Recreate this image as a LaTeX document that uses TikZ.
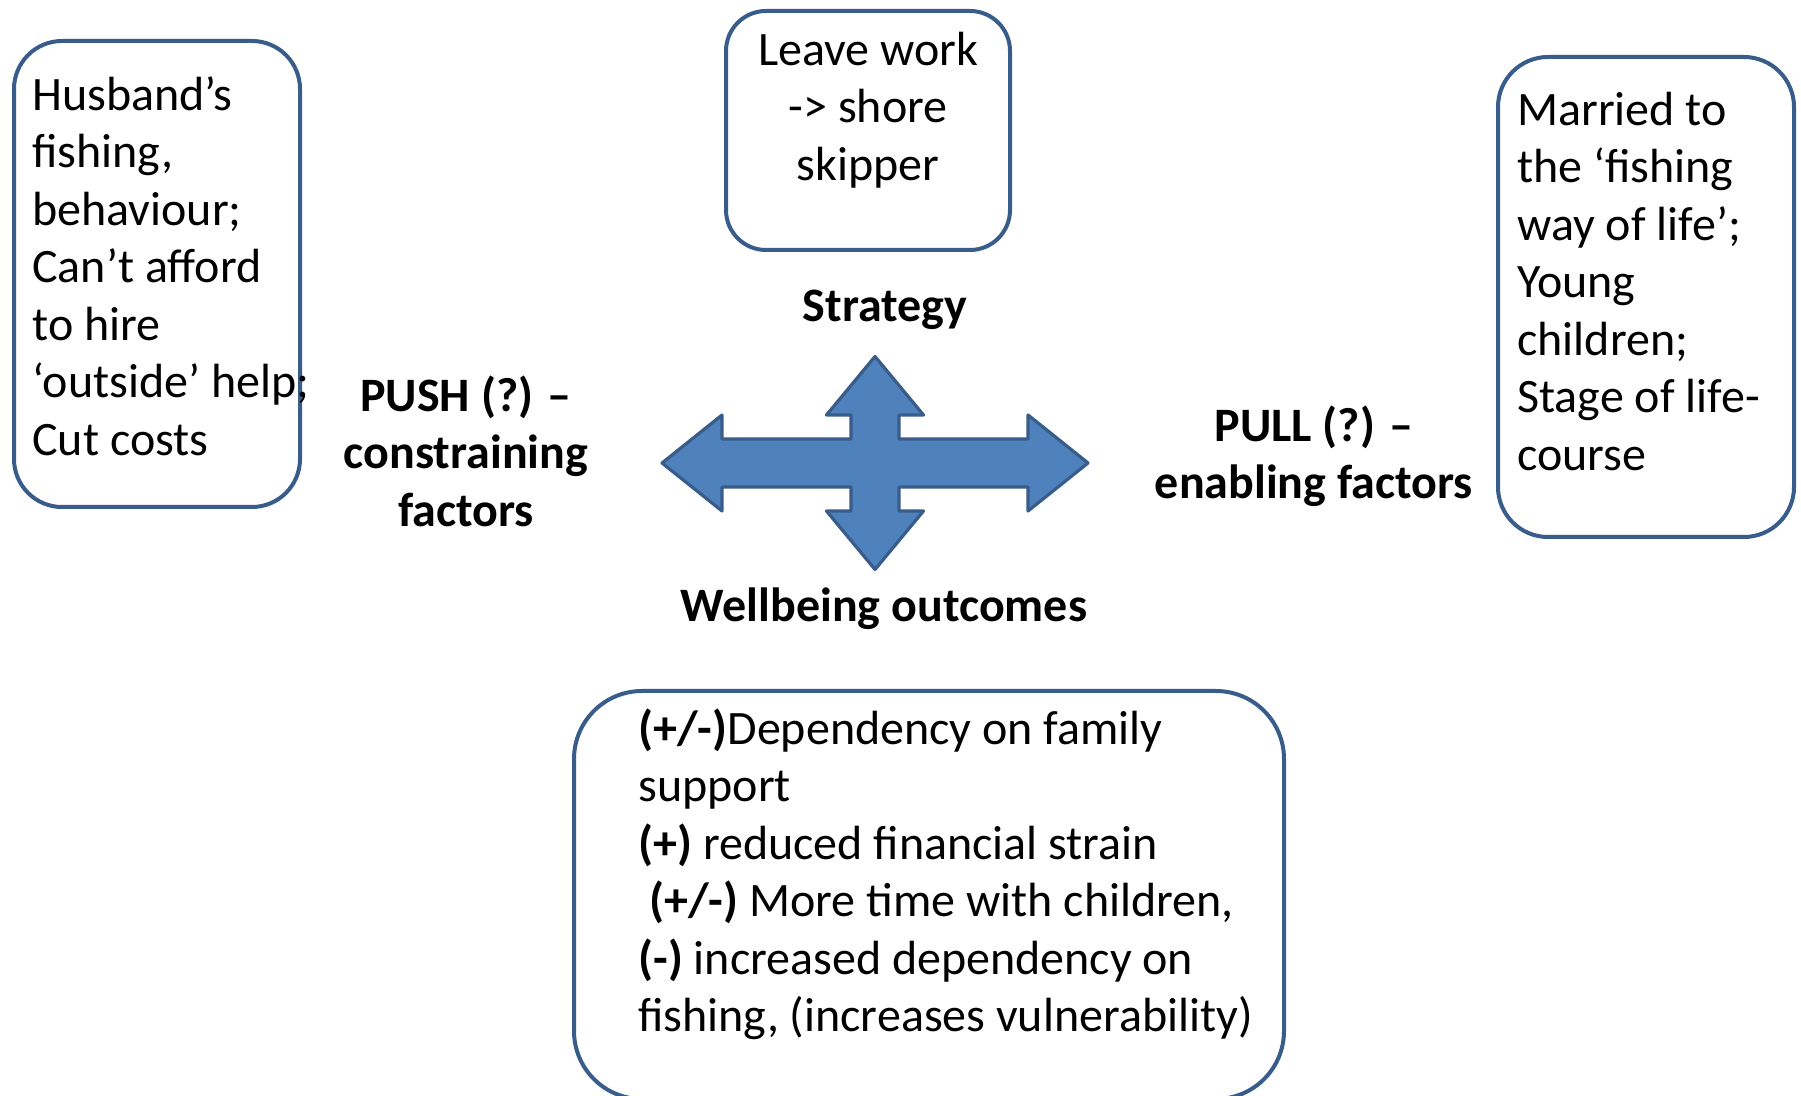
\documentclass[tikz,border=0pt]{standalone}
\usepackage{fontspec}
\setmainfont{Carlito}
\usepackage{tikz}
\usetikzlibrary{positioning}
\definecolor{boxline}{HTML}{385D8A}
\definecolor{crossfill}{HTML}{4F81BD}

\begin{document}
\begin{tikzpicture}[x=0.5pt,y=-0.5pt]
    \tikzstyle{box}=[draw=boxline,line width=2pt,fill=white,inner sep=0pt]
    \tikzstyle{txt}=[inner sep=0pt,align=left,anchor=north west,font=\fontsize{24}{28.75}\selectfont]
    \tikzstyle{lbl}=[inner sep=0pt,align=center,anchor=north,font=\fontsize{24}{28.75}\selectfont\bfseries]
    \tikzstyle{cross}=[draw=boxline,line width=1.6pt,fill=crossfill,line join=round]

    \path[use as bounding box,fill=white] (0,0) rectangle (1801,1096);

    \node[box,minimum width=143pt,minimum height=233pt,rounded corners=24pt] (L1) at (157,274) {};
    \node[box,minimum width=142pt,minimum height=119.5pt,rounded corners=20pt] (S1) at (868,130.5) {};
    \node[box,minimum width=148pt,minimum height=240pt,rounded corners=25pt] (R1) at (1646,297) {};
    \node[box,minimum width=355pt,minimum height=204pt,rounded corners=34pt] (W1) at (929,895) {};

    \node[txt] (L2) at (32,69.75) {\strut Husband’s\\fishing,\\behaviour;\\Can’t afford\\to hire\\‘outside’ help;\\Cut costs};
    \node[txt,align=center,anchor=north] (S2) at (868,24.75) {\strut Leave work\\-> shore\\skipper};
    \node[txt] (R2) at (1517,84.75) {\strut Married to\\the ‘fishing\\way of life’;\\Young\\children;\\Stage of life-\\course};
    \node[txt] (W2) at (638,703.75) {\strut\textbf{(+/-)}Dependency on family\\support\\\textbf{(+)} reduced financial strain\\\hspace*{0.23em}\textbf{(+/-)} More time with children,\\\textbf{(-)} increased dependency on\\fishing, (increases vulnerability)};

    \node[lbl] (S3) at (885,280.75) {\strut Strategy};
    \node[lbl] (W3) at (884,580.75) {\strut Wellbeing outcomes};
    \node[lbl] (P1) at (466,370.75) {\strut PUSH (?) –\\constraining\\factors};
    \node[lbl] (Q1) at (1314,400.75) {\strut PULL (?) –\\enabling factors};

    \coordinate (X) at (875,463);
    \draw[cross,shift={(X)}] (0,-106.5) -- (48.5,-48) -- (24,-48) -- (24,-24) -- (153,-24) -- (153,-48)
        -- (213,0) -- (153,48) -- (153,24) -- (24,24) -- (24,48) -- (48.5,48) -- (0,106.5)
        -- (-48.5,48) -- (-24,48) -- (-24,24) -- (-153,24) -- (-153,48) -- (-213,0)
        -- (-153,-48) -- (-153,-24) -- (-24,-24) -- (-24,-48) -- (-48.5,-48) -- cycle;

\end{tikzpicture}
\end{document}
